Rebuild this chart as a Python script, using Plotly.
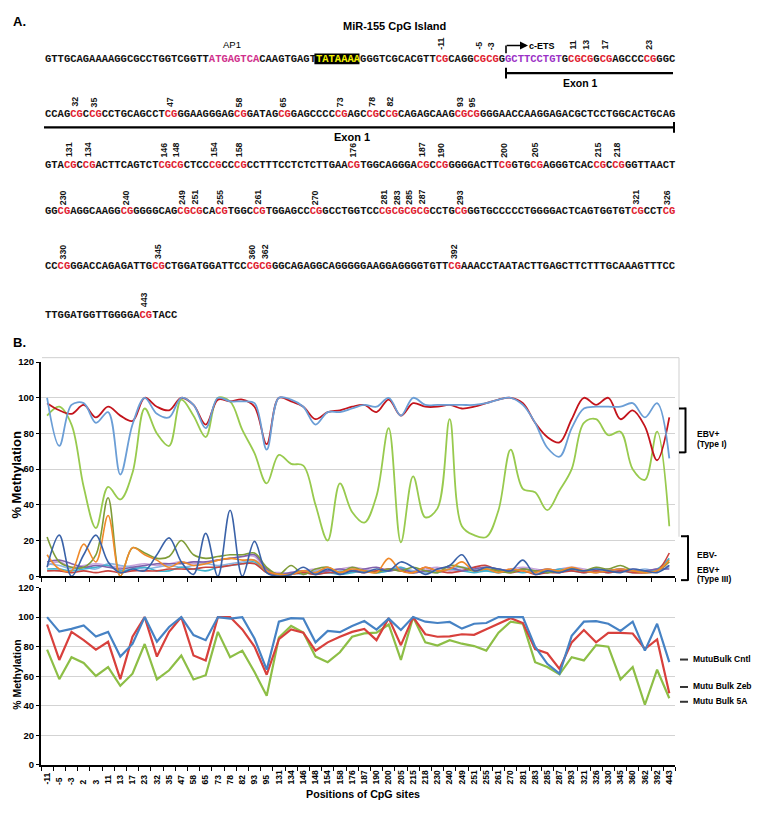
import plotly.graph_objects as go

W, H = 764, 814

# ---------------- data ----------------
cpg_sites = ["-11", "-5", "-3", "2", "3", "11", "13", "17", "23", "32", "35", "47", "58", "65",
             "73", "78", "82", "93", "95", "131", "134", "146", "148", "154", "158", "176", "187",
             "190", "200", "205", "215", "218", "230", "240", "249", "251", "255", "261", "270",
             "281", "283", "285", "287", "293", "321", "326", "330", "345", "360", "362", "392", "443"]

# Top chart: EBV+ (Type I)
typeI_red = [97, 93, 91, 96, 89, 95, 90, 87, 100, 95, 93, 100, 96, 85, 99, 98, 99, 95, 74, 100,
             98, 95, 88, 92, 93, 95, 96, 92, 99, 90, 97, 95, 95, 96, 94, 95, 97, 99, 100, 97,
             86, 78, 75, 88, 100, 96, 100, 88, 93, 84, 65, 89]
typeI_blue = [100, 73, 96, 97, 86, 92, 57, 85, 100, 91, 89, 100, 96, 83, 100, 98, 98, 97, 71, 100,
              99, 95, 85, 92, 92, 94, 96, 95, 100, 90, 100, 96, 96, 96, 96, 96, 97, 99, 100, 96,
              86, 72, 67, 83, 94, 95, 95, 95, 97, 89, 97, 66]
typeI_green = [90, 95, 85, 50, 27, 50, 43, 58, 94, 80, 73, 99, 90, 78, 100, 98, 82, 69, 52, 68,
               63, 62, 40, 20, 52, 36, 30, 45, 83, 19, 56, 33, 38, 88, 28, 23, 22, 37, 71, 49,
               47, 37, 48, 60, 86, 88, 79, 81, 60, 54, 81, 28]

# Top chart: EBV- and EBV+ (Type III) lines
low_dark_blue = [5, 23, 0, 12, 23, 8, 2, 4, 3, 12, 21.5, 8, 1, 24, 0, 37, 0, 19.5, 2, 0,
                 1, 5, 1, 4, 1, 3, 2, 4, 3, 8, 5, 1, 4, 6, 12, 3, 5, 4, 3, 9,
                 1, 3, 2, 4, 3, 4, 3, 2, 4, 3, 2, 6]
low_orange = [12, 4, 3, 18, 8, 34, 0, 16, 12, 9, 5, 8, 6, 7, 9, 10, 9, 9, 3, 1,
              1, 3, 2, 5, 2, 4, 3, 2, 10, 3, 2, 5, 3, 4, 8, 3, 4, 2, 4, 3,
              2, 4, 3, 5, 3, 2, 3, 4, 3, 2, 3, 9]
low_olive = [22, 8, 5, 5, 12, 44, 0, 16, 13, 10, 11, 20, 12, 10, 11, 12, 12, 13, 5, 1,
             6, 1, 4, 5, 2, 5, 3, 2, 4, 3, 5, 3, 2, 6, 5, 3, 4, 3, 2, 4,
             3, 2, 3, 4, 3, 5, 4, 6, 3, 2, 3, 8]
low_purple = [8, 9, 7, 5, 6, 5, 4, 5, 6, 7, 7, 7, 8, 8, 9, 10, 11, 12, 4, 1,
              2, 3, 2, 3, 4, 3, 4, 5, 3, 4, 2, 3, 4, 5, 3, 4, 5, 4, 3, 4,
              3, 4, 3, 4, 3, 2, 3, 4, 3, 3, 4, 4]
low_cyan = [4, 4, 3, 4, 5, 6, 3, 4, 5, 3, 3, 5, 4, 3, 5, 6, 7, 8, 2, 1,
            1, 2, 1, 2, 1, 2, 3, 2, 3, 5, 2, 3, 2, 4, 3, 2, 3, 2, 3, 2,
            3, 2, 4, 3, 2, 3, 2, 3, 2, 3, 4, 10]
low_red = [3, 3, 2, 3, 2, 3, 2, 3, 3, 3, 4, 4, 4, 5, 5, 6, 7, 7, 2, 1,
           1, 2, 1, 2, 2, 3, 2, 3, 4, 3, 2, 5, 3, 2, 3, 5, 6, 3, 2, 3,
           1, 2, 2, 3, 2, 3, 2, 3, 2, 2, 3, 13]
low_lavender = [6, 8, 5, 6, 7, 6, 5, 6, 7, 6, 7, 8, 7, 8, 9, 10, 11, 11, 3, 2,
                2, 3, 4, 3, 4, 5, 4, 3, 4, 5, 3, 4, 5, 3, 4, 5, 4, 3, 4, 5,
                4, 3, 4, 5, 4, 3, 4, 3, 4, 3, 4, 6]
low_light_blue = [7, 6, 4, 5, 4, 7, 6, 5, 4, 5, 6, 5, 6, 7, 6, 7, 8, 9, 3, 1,
                  2, 1, 3, 2, 3, 4, 3, 2, 3, 4, 3, 2, 3, 4, 5, 4, 3, 2, 3, 4,
                  3, 2, 3, 4, 3, 4, 3, 4, 3, 4, 3, 5]

# Bottom chart: Mutu bulk treatments
mutu_cntl = [100, 90.2, 92, 94.4, 86.9, 90, 73.3, 81.8, 100, 83.3, 93.3, 100, 87.8, 84.4, 100, 99,
             100, 85.5, 64.4, 96.9, 99.3, 99, 82.9, 90.7, 89.8, 94, 97.3, 91.5, 99, 91.3, 100,
             96.9, 96, 96.7, 92.2, 95.5, 96, 100, 100, 100, 80, 68.4, 61.8, 87.3, 96.9, 97.3,
             95.5, 90.7, 96.9, 77.3, 95.5, 69.5]
mutu_zeb = [95, 71, 90, 84.4, 78, 83.3, 58, 86.7, 100, 73.3, 90, 100, 74, 70.7, 100, 100, 91.7,
            80, 61, 85, 91.7, 89.5, 77.3, 82.9, 86.7, 90, 92, 84.4, 99.3, 81, 100, 88.4, 86.7,
            86.9, 88.4, 88, 91.7, 95.5, 99.3, 96, 78.4, 75.5, 65, 82.9, 91.3, 82.9, 89.3, 89.3,
            88.9, 78.4, 84.9, 48.4]
mutu_5a = [78, 58, 72.9, 69, 60.2, 66.2, 53.5, 61.7, 81.8, 57.8, 64, 74, 57.8, 60.7, 90, 72.9,
           77.3, 62.9, 46.7, 86.2, 94, 89.5, 73.3, 69.5, 76.2, 86.7, 89, 89.5, 95, 71, 100, 82.9,
           80.7, 84.4, 82, 80.4, 77.3, 89.5, 96.9, 95.5, 69.5, 66.2, 61.3, 72.9, 70.7, 81, 80,
           57.8, 66.2, 40.7, 64.4, 45.1]

# Panel A: CpG island sequence, segment kinds: n plain, cg CpG, ap1, tata, ets
seq_rows = [
    [("GTTGCAGAAAAGGCGCCTGGTCGGTT", "n"), ("ATGAGTCA", "ap1"), ("CAAGTGAGT", "n"), ("TATAAAA", "tata"),
     ("GGGTCGCACGTT", "n"), ("CG", "cg"), ("CAGG", "n"), ("CGCG", "cg"), ("G", "n"),
     ("GCTTCCTGT", "ets"), ("G", "n"), ("CGCG", "cg"), ("G", "n"), ("CG", "cg"), ("AGCCC", "n"),
     ("CG", "cg"), ("GGC", "n")],
    [("CCAG", "n"), ("CG", "cg"), ("C", "n"), ("CG", "cg"), ("CCTGCAGCCT", "n"), ("CG", "cg"),
     ("GGAAGGGAG", "n"), ("CG", "cg"), ("GATAG", "n"), ("CG", "cg"), ("GAGCCCC", "n"), ("CG", "cg"),
     ("AGC", "n"), ("CG", "cg"), ("C", "n"), ("CG", "cg"), ("CAGAGCAAG", "n"), ("CGCG", "cg"),
     ("GGGAACCAAGGAGACGCTCCTGGCACTGCAG", "n")],
    [("GTA", "n"), ("CG", "cg"), ("C", "n"), ("CG", "cg"), ("ACTTCAGTCT", "n"), ("CGCG", "cg"),
     ("CTCC", "n"), ("CG", "cg"), ("CC", "n"), ("CG", "cg"), ("CCTTTCCTCTCTTGAA", "n"), ("CG", "cg"),
     ("TGGCAGGGA", "n"), ("CG", "cg"), ("C", "n"), ("CG", "cg"), ("GGGGACTT", "n"), ("CG", "cg"),
     ("GTG", "n"), ("CG", "cg"), ("AGGGTCAC", "n"), ("CG", "cg"), ("C", "n"), ("CG", "cg"),
     ("GGTTAACT", "n")],
    [("GG", "n"), ("CG", "cg"), ("AGGCAAGG", "n"), ("CG", "cg"), ("GGGGCAG", "n"), ("CGCG", "cg"),
     ("CA", "n"), ("CG", "cg"), ("TGGC", "n"), ("CG", "cg"), ("TGGAGCC", "n"), ("CG", "cg"),
     ("GCCTGGTCC", "n"), ("CGCGCGCG", "cg"), ("CCTG", "n"), ("CG", "cg"),
     ("GGTGCCCCCTGGGGACTCAGTGGTGT", "n"), ("CG", "cg"), ("CCT", "n"), ("CG", "cg")],
    [("CC", "n"), ("CG", "cg"), ("GGACCAGAGATTG", "n"), ("CG", "cg"), ("CTGGATGGATTCC", "n"),
     ("CGCG", "cg"), ("GGCAGAGGCAGGGGGAAGGAGGGGTGTT", "n"), ("CG", "cg"),
     ("AAACCTAATACTTGAGCTTCTTTGCAAAGTTTCC", "n")],
    [("TTGGATGGTTGGGGA", "n"), ("CG", "cg"), ("TACC", "n")],
]
cpg_labels = ["-11", "-5", "-3", "11", "13", "17", "23", "32", "35", "47", "58", "65", "73", "78",
              "82", "93", "95", "131", "134", "146", "148", "154", "158", "176", "187", "190", "200",
              "205", "215", "218", "230", "240", "249", "251", "255", "261", "270", "281", "283",
              "285", "287", "293", "321", "326", "330", "345", "360", "362", "392", "443"]

# ---------------- style ----------------
SANS = "Liberation Sans, Arial, sans-serif"
MONO = "Liberation Mono, Courier New, monospace"
seq_colors = {"n": "#111111", "cg": "#E0202E", "ap1": "#D0308C", "ets": "#9B32C6", "tata": "#F2F000"}

CH_W = 6.3          # advance of one base at the font size below (0.6 em)
SEQ_SIZE = CH_W / 0.6
X0 = 44
row_y = [53.5, 109.5, 161, 207.5, 264, 313.7]
label_bottom = [45.5, 103.5, 154.5, 202.5, 257.5, 306]

fig = go.Figure()

# top chart traces
low_series = [
    (low_lavender, "#C7A3DC"), (low_light_blue, "#8DB5E2"), (low_cyan, "#3FB3CF"),
    (low_red, "#C9433E"), (low_purple, "#8160AB"), (low_olive, "#7F9C38"),
    (low_orange, "#F08A2A"), (low_dark_blue, "#3A62A8"),
]
for vals, col in low_series:
    fig.add_trace(go.Scatter(x=cpg_sites, y=vals, mode="lines", xaxis="x", yaxis="y",
                             line=dict(color=col, width=1.6, shape="spline", smoothing=1.0),
                             showlegend=False, hoverinfo="skip"))
for vals, col in [(typeI_green, "#98CA4E"), (typeI_red, "#C3141C"), (typeI_blue, "#6B9ED6")]:
    fig.add_trace(go.Scatter(x=cpg_sites, y=vals, mode="lines", xaxis="x", yaxis="y",
                             line=dict(color=col, width=1.8, shape="spline", smoothing=1.0),
                             showlegend=False, hoverinfo="skip"))

# bottom chart traces
for vals, col in [(mutu_5a, "#8DBE46"), (mutu_zeb, "#D8403C"), (mutu_cntl, "#4682C4")]:
    fig.add_trace(go.Scatter(x=cpg_sites, y=vals, mode="lines", xaxis="x2", yaxis="y2",
                             line=dict(color=col, width=2.2), showlegend=False, hoverinfo="skip"))

# ---------------- panel A sequence ----------------
shapes = []
annotations = []
lab_i = 0
for r, segs in enumerate(seq_rows):
    i = 0
    html = []
    for text, kind in segs:
        if kind == "tata":
            shapes.append(dict(type="rect", xref="x3", yref="y3", x0=X0 + i * CH_W - 0.5,
                               x1=X0 + (i + len(text)) * CH_W + 0.5, y0=row_y[r] - 5.4,
                               y1=row_y[r] + 5.6, fillcolor="#000000", line=dict(width=0),
                               layer="below"))
        if kind == "cg":
            for k in range(0, len(text), 2):
                annotations.append(dict(xref="x3", yref="y3", x=X0 + (i + k + 1) * CH_W,
                                        y=label_bottom[r], text=cpg_labels[lab_i], textangle=-90,
                                        xanchor="center", yanchor="bottom", showarrow=False,
                                        borderpad=0,
                                        font=dict(family=SANS, size=8.8, color="#111",
                                                  weight="bold")))
                lab_i += 1
        if kind == "n":
            html.append(text)
        else:
            html.append('<span style="color:%s">%s</span>' % (seq_colors[kind], text))
        i += len(text)
    annotations.append(dict(xref="x3", yref="y3", x=X0, y=row_y[r], text="".join(html),
                            xanchor="left", yanchor="middle", showarrow=False, borderpad=0,
                            font=dict(family=MONO, size=SEQ_SIZE, color=seq_colors["n"],
                                      weight="bold")))

def line(x0, y0, x1, y1, color="#000", width=2):
    shapes.append(dict(type="line", xref="x3", yref="y3", x0=x0, y0=y0, x1=x1, y1=y1,
                       line=dict(color=color, width=width)))

def text(x, y, s, size=10, bold=True, anchor="center", family=SANS, angle=0, color="#000"):
    annotations.append(dict(xref="x3", yref="y3", x=x, y=y, text=s, showarrow=False,
                            xanchor=anchor, yanchor="middle", textangle=angle, borderpad=0,
                            font=dict(family=family, size=size, color=color,
                                      weight="bold" if bold else "normal")))

# titles / labels panel A
text(12, 16, "A.", size=13, anchor="left")
text(394, 20, "MiR-155 CpG Island", size=11)
text(232, 39, "AP1", size=9.5, bold=False)
# c-ETS arrow
line(506, 48, 506, 40, width=1.6)
annotations.append(dict(xref="x3", yref="y3", x=528, y=40, ax=505.2, ay=40, axref="x3",
                        ayref="y3", text="", showarrow=True, arrowhead=2, arrowsize=1,
                        arrowwidth=1.6, arrowcolor="#000"))
text(542, 41, "c-ETS", size=9)
# exon 1 lines
line(506, 68, 673, 68, width=2.4)
line(506, 62.5, 506, 73.5, width=2)
text(580, 78, "Exon 1", size=10.5)
line(44, 123, 674, 123, width=2.4)
line(674, 117.5, 674, 128.5, width=2)
text(352, 133, "Exon 1", size=11)

# panel B labels
text(12, 341, "B.", size=13, anchor="left")
text(17, 476, "% Methylation", size=13, angle=-90)
text(17, 678, "% Methylation", size=10.5, angle=-90)
text(363, 799, "Positions of CpG sites", size=10.7)

# top chart border (chart area)
line(42, 356.5, 679, 356.5, color="#cfcfcf", width=1)
line(679, 356.5, 679, 538, color="#cfcfcf", width=1)

# brackets
line(679, 408, 685.5, 408)
line(685.5, 407, 685.5, 453)
line(679, 452.5, 685.5, 452.5)
text(696, 434, "EBV+", size=8.5, anchor="left")
text(696, 444.5, "(Type I)", size=8.5, anchor="left")
line(681, 537.5, 688, 537.5)
line(688, 536.5, 688, 582.5)
line(681, 582, 688, 582)
text(696, 557, "EBV-", size=8.5, anchor="left")
text(696, 571.5, "EBV+", size=8.5, anchor="left")
text(696, 580.8, "(Type III)", size=8.5, anchor="left")

# bottom legend
for yy, lab in [(661.5, "MutuBulk Cntl"), (689.3, "Mutu Bulk Zeb"), (704.3, "Mutu Bulk 5A")]:
    line(680, yy + 1, 688, yy + 1, color="#333", width=2)
    text(691.5, yy, lab, size=8.5, anchor="left")

# ---------------- axes ----------------
def padded(lbl):
    w = sum(0.333 if c == "-" else 0.556 for c in lbl)
    return lbl + "\u00a0" * max(0, round((1.668 - w) / 0.278))

xdom = [41 / W, 675.4 / W]
common_x = dict(type="category", categoryorder="array", categoryarray=cpg_sites,
                range=[-0.5, len(cpg_sites) - 0.5], domain=xdom, showline=True, linecolor="#000",
                linewidth=2, ticks="outside", ticklen=4, tickcolor="#000", tickwidth=1,
                tickson="boundaries", showgrid=False, zeroline=False, fixedrange=True)
common_y = dict(range=[0, 120], dtick=20, showline=True, linecolor="#000", linewidth=2,
                ticks="outside", ticklen=3, tickcolor="#000", showgrid=True, gridcolor="#d3d3d3",
                gridwidth=1, zeroline=False, fixedrange=True,
                tickfont=dict(family=SANS, size=9.5, color="#000", weight="bold"))

fig.update_layout(
    width=W, height=H, autosize=False,
    margin=dict(l=0, r=0, t=0, b=0),
    paper_bgcolor="#ffffff", plot_bgcolor="rgba(0,0,0,0)",
    showlegend=False,
    xaxis=dict(common_x, anchor="y", showticklabels=False),
    yaxis=dict(common_y, anchor="x", domain=[1 - 578 / H, 1 - 361 / H]),
    xaxis2=dict(common_x, anchor="y2", showticklabels=True, tickangle=-90,
                tickmode="array", tickvals=cpg_sites, ticktext=[padded(c) for c in cpg_sites],
                tickfont=dict(family=SANS, size=8.5, color="#000", weight="bold")),
    yaxis2=dict(common_y, anchor="x2", domain=[1 - 769.3 / H, 1 - 589.5 / H]),
    xaxis3=dict(domain=[0, 1], range=[0, W], visible=False, anchor="y3", fixedrange=True),
    yaxis3=dict(domain=[0, 1], range=[H, 0], visible=False, anchor="x3", fixedrange=True),
    shapes=shapes,
    annotations=annotations,
)

fig.write_html("out.html", config={"displayModeBar": False},
               post_script="document.body.style.margin='0';document.body.style.overflow='hidden';")
